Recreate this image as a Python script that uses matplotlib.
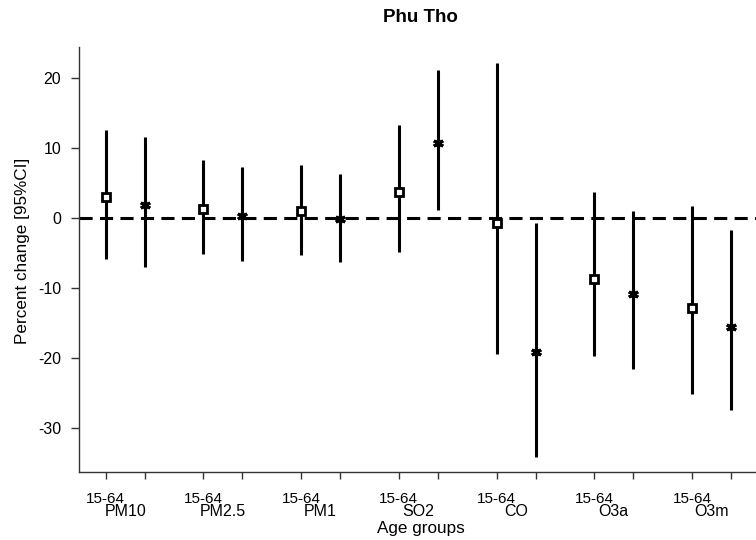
import numpy as np
import matplotlib.pyplot as plt

plt.rcParams['font.family'] = ['Liberation Sans', 'DejaVu Sans']
plt.rcParams['axes.unicode_minus'] = False

# Pollutants and age groups
pollutants = ['PM10', 'PM2.5', 'PM1', 'SO2', 'CO', 'O3a', 'O3m']
age_label = '15-64'

# Percent change estimates with 95% CI, first age group
est_a = [2.95, 1.33, 0.95, 3.76, -0.76, -8.76, -12.9]
low_a = [-5.9, -5.14, -5.29, -4.9, -19.5, -19.7, -25.2]
up_a = [12.57, 8.33, 7.57, 13.33, 22.1, 3.76, 1.62]

# Second age group
est_b = [1.86, 0.33, -0.19, 10.62, -19.1, -10.9, -15.52]
low_b = [-6.95, -6.14, -6.33, 1.14, -34.2, -21.57, -27.43]
up_b = [11.5, 7.19, 6.19, 21.05, -0.67, 1.0, -1.71]

x_a = np.arange(1, len(pollutants) + 1)
x_b = x_a + 0.4

W, H = 756, 540
fig = plt.figure(figsize=(W / 100, H / 100), dpi=100)
ax = fig.add_axes([79 / W, (H - 472) / H, 1 - 79 / W, (472 - 47) / H])

ax.axhline(0, color='black', lw=2.2, ls=(0, (4.3, 2.4)), zorder=1)

ax.vlines(x_a, low_a, up_a, color='black', lw=2.2, zorder=2)
ax.vlines(x_b, low_b, up_b, color='black', lw=2.2, zorder=2)
ax.plot(x_a, est_a, ls='none', marker='s', ms=5.2, mfc='white', mec='black', mew=2, zorder=3)
ax.plot(x_b, est_b, ls='none', marker=(6, 2, 0), ms=7.5, mec='black', mew=2.2, zorder=3)

ax.set_xlim(1 - 26.7 / 97.7, 1 + 650.3 / 97.7)
ax.set_ylim(-36.3, 24.4)

for s in ['top', 'right']:
    ax.spines[s].set_visible(False)
for s in ['left', 'bottom']:
    ax.spines[s].set_linewidth(1.0)
    ax.spines[s].set_color('#333333')

ax.set_yticks([20, 10, 0, -10, -20, -30])
ax.tick_params(axis='y', labelsize=11.5, length=5.8, width=1, pad=7, color='#333333')

xt = np.sort(np.concatenate([x_a, x_b]))
ax.set_xticks(xt)
ax.set_xticklabels([])
ax.tick_params(axis='x', length=5, width=1, color='#333333')

# Tick labels, pollutant names and axis title below the x axis
ax_h = 472 - 47
for k, name in enumerate(pollutants):
    ax.text(x_a[k], -(502.7 - 472) / ax_h, age_label, transform=ax.get_xaxis_transform(),
            ha='center', va='baseline', fontsize=11)
    ax.text((x_a[k] + x_b[k]) / 2, -(516 - 472) / ax_h, name, transform=ax.get_xaxis_transform(),
            ha='center', va='baseline', fontsize=11.5)

fig.text(421 / W, 1 - 533.3 / H, 'Age groups', ha='center', va='baseline', fontsize=12.3)
fig.text(23 / W, 1 - 251 / H, 'Percent change [95%CI]', ha='center', va='center',
         rotation=90, fontsize=12.3)
fig.text(420 / W, 1 - 18 / H, 'Phu Tho', ha='center', va='center', fontsize=13.5,
         fontweight='bold')

fig.savefig('out.png', dpi=100)
